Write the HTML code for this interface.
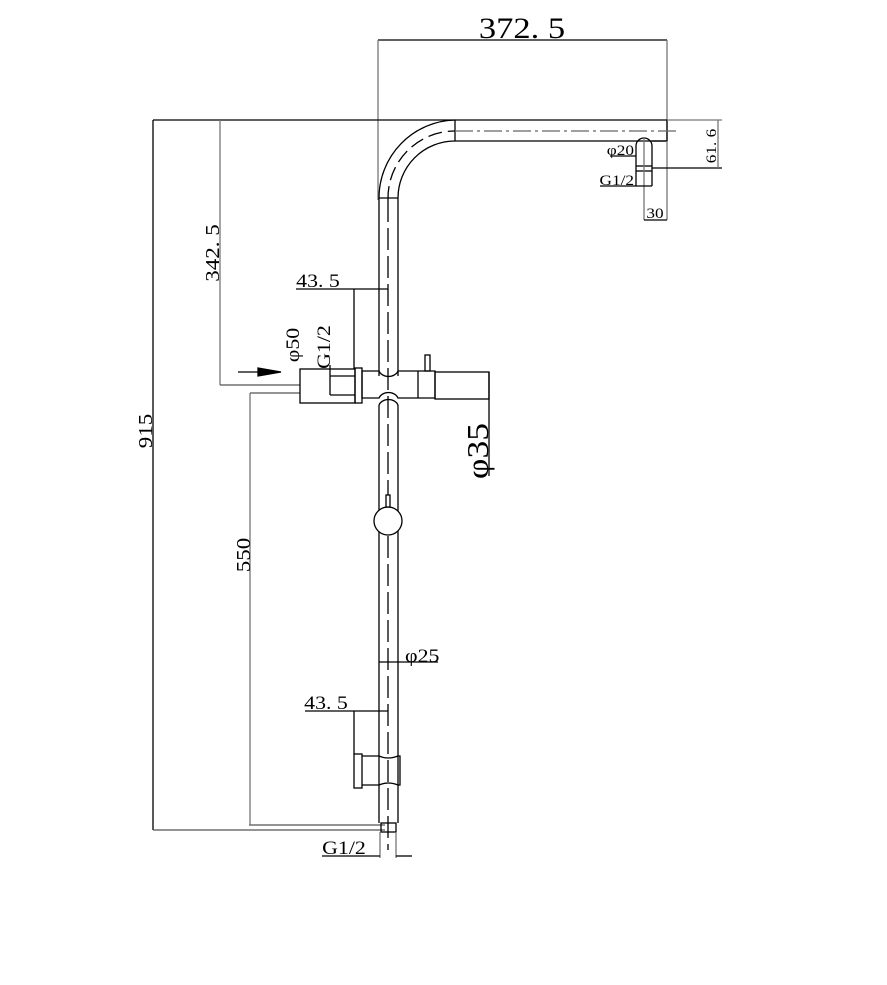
<!DOCTYPE html>
<html><head><style>
html,body{margin:0;padding:0;background:#fff;}
svg{display:block;}
text{font-family:"Liberation Serif",serif;fill:#000;}
</style></head><body>
<svg width="887" height="985" viewBox="0 0 887 985" xmlns="http://www.w3.org/2000/svg">
<g fill="none" stroke="#000" stroke-width="1.3">
<line x1="378" y1="40" x2="667" y2="40"/>
<line x1="378" y1="40" x2="378" y2="200" stroke="#777"/>
<line x1="667" y1="40" x2="667" y2="141" stroke="#777"/>
<line x1="153" y1="120" x2="153" y2="830"/>
<line x1="153" y1="120" x2="455" y2="120"/>
<line x1="153" y1="830" x2="385" y2="830" stroke="#555"/>
<line x1="249" y1="825" x2="385" y2="825" stroke="#555"/>
<line x1="220" y1="120" x2="220" y2="385" stroke="#777"/>
<line x1="220" y1="385" x2="300" y2="385" stroke="#555"/>
<line x1="250" y1="393" x2="250" y2="825" stroke="#777"/>
<line x1="250" y1="393" x2="300" y2="393" stroke="#555"/>
<path d="M379 376 L379 198 A78 78 0 0 1 455 120 L667 120 L667 141 L455 141 A57 57 0 0 0 398 198 L398 376"/>
<path d="M379 198 L398 198"/>
<path d="M455 120 L455 141"/>
<path d="M388 200 A67 67 0 0 1 455 131" stroke-dasharray="14 6"/>
<line x1="455" y1="131" x2="677" y2="131" stroke="#666" stroke-dasharray="18 4 3 4"/>
<line x1="388" y1="200" x2="388" y2="850" stroke-dasharray="22 6"/>
<path d="M636 186 L636 146 A8 8 0 0 1 652 146 L652 186"/>
<line x1="636" y1="166" x2="652" y2="166"/>
<line x1="636" y1="171" x2="652" y2="171"/>
<line x1="644" y1="137" x2="644" y2="220" stroke="#777"/>
<line x1="652" y1="141" x2="667" y2="141"/>
<line x1="667" y1="141" x2="667" y2="220" stroke="#777"/>
<line x1="644" y1="220" x2="667" y2="220"/>
<line x1="610" y1="156" x2="636" y2="156"/>
<line x1="600" y1="186" x2="652" y2="186"/>
<line x1="652" y1="168" x2="722" y2="168"/>
<line x1="667" y1="120" x2="722" y2="120" stroke="#777"/>
<line x1="718" y1="120" x2="718" y2="168" stroke="#777"/>
<line x1="296" y1="289" x2="388" y2="289"/>
<line x1="354" y1="289" x2="354" y2="369"/>
<rect x="300" y="369" width="55" height="34"/>
<rect x="355" y="368" width="7" height="35"/>
<line x1="330" y1="376" x2="355" y2="376"/>
<line x1="330" y1="395" x2="355" y2="395"/>
<line x1="330" y1="365" x2="330" y2="395"/>
<path d="M362 371 L379 371 A10 8 0 0 0 398 371 L435 371 L435 398 L398 398 A10 8 0 0 0 379 398 L362 398 Z"/>
<path d="M379 405 A10 8 0 0 1 398 405"/>
<line x1="379" y1="405" x2="379" y2="823"/>
<line x1="398" y1="405" x2="398" y2="823"/>
<line x1="418" y1="371" x2="418" y2="398"/>
<rect x="425" y="355" width="5" height="16"/>
<rect x="435" y="372" width="54" height="27"/>
<line x1="489" y1="372" x2="489" y2="476"/>
<line x1="238" y1="372" x2="262" y2="372"/>
<path d="M258 368 L281 372 L258 376 Z" fill="#000"/>
<circle cx="388" cy="521" r="14" fill="#fff"/>
<rect x="386" y="495" width="4" height="12" fill="#fff"/>
<line x1="379" y1="662" x2="438" y2="662"/>
<line x1="305" y1="711" x2="388" y2="711"/>
<line x1="354" y1="711" x2="354" y2="754"/>
<rect x="354" y="754" width="8" height="34"/>
<path d="M362 756 L379 756 Q388 760 398 756 L400 756 L400 785 L398 785 Q388 781 379 785 L362 785"/>
<rect x="381" y="823" width="15" height="9"/>
<line x1="380" y1="832" x2="380" y2="858" stroke="#777"/>
<line x1="396" y1="832" x2="396" y2="858" stroke="#777"/>
<line x1="322" y1="856" x2="380" y2="856"/>
<line x1="396" y1="856" x2="412" y2="856"/>
</g>
<text transform="translate(522,38) scale(1.15,1)" font-size="30" text-anchor="middle">372. 5</text>
<text transform="translate(634,155) scale(1.15,1)" font-size="15" text-anchor="end">φ20</text>
<text transform="translate(634,185) scale(1.15,1)" font-size="15" text-anchor="end">G1/2</text>
<text transform="translate(655,218) scale(1.15,1)" font-size="15" text-anchor="middle">30</text>
<text transform="translate(716,146) rotate(-90) scale(1.15,1)" font-size="15" text-anchor="middle">61. 6</text>
<text transform="translate(219,253) rotate(-90) scale(1.15,1)" font-size="20" text-anchor="middle">342. 5</text>
<text transform="translate(152,431) rotate(-90) scale(1.15,1)" font-size="20" text-anchor="middle">915</text>
<text transform="translate(250,555) rotate(-90) scale(1.15,1)" font-size="20" text-anchor="middle">550</text>
<text transform="translate(318,287) scale(1.15,1)" font-size="19" text-anchor="middle">43. 5</text>
<text transform="translate(326,709) scale(1.15,1)" font-size="19" text-anchor="middle">43. 5</text>
<text transform="translate(299,345) rotate(-90) scale(1.15,1)" font-size="19" text-anchor="middle">φ50</text>
<text transform="translate(330,347) rotate(-90) scale(1.15,1)" font-size="19" text-anchor="middle">G1/2</text>
<text transform="translate(488,451) rotate(-90) scale(1.15,1)" font-size="31" text-anchor="middle">φ35</text>
<text transform="translate(405,662) scale(1.15,1)" font-size="19">φ25</text>
<text transform="translate(344,854) scale(1.15,1)" font-size="19" text-anchor="middle">G1/2</text>
</svg>
</body></html>
